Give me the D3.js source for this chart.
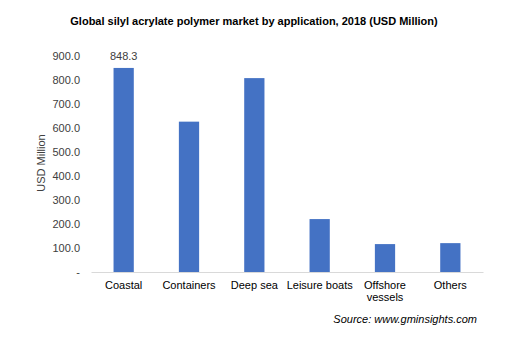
<!DOCTYPE html>
<html>
<head>
<meta charset="utf-8">
<script src="https://d3js.org/d3.v7.min.js"></script>
<style>
  body { margin: 0; background: #fff; }
  text { font-family: "Liberation Sans", Arial, sans-serif; }
</style>
</head>
<body>
<script>
  var categories = ["Coastal", "Containers", "Deep sea", "Leisure boats", "Offshore\nvessels", "Others"];
  var values = [848.3, 625, 806, 220, 116, 120];
  var tickValues = [0, 100, 200, 300, 400, 500, 600, 700, 800, 900];

  var width = 525, height = 341;
  var svg = d3.select("body").append("svg")
      .attr("width", width)
      .attr("height", height);

  var x = d3.scaleBand().domain(categories).range([91, 483]).paddingInner(0.69).paddingOuter(0.345);
  var y = d3.scaleLinear().domain([0, 900]).range([272, 55.5]);

  // title
  svg.append("text")
      .attr("x", 254).attr("y", 25)
      .attr("text-anchor", "middle")
      .attr("font-size", "11px").attr("font-weight", "bold")
      .attr("fill", "#000")
      .text("Global silyl acrylate polymer market by application, 2018 (USD Million)");

  // y axis labels
  var yAxis = d3.axisLeft(y).tickValues(tickValues).tickSize(0).tickPadding(0)
      .tickFormat(function(d){ return d === 0 ? "-" : d3.format(".1f")(d); });
  var gy = svg.append("g").attr("transform", "translate(80,0)").call(yAxis);
  gy.select(".domain").remove();
  gy.selectAll("text").attr("font-size", "11px").attr("fill", "#404040")
      .attr("font-family", "Liberation Sans, Arial, sans-serif");

  svg.append("text")
      .attr("transform", "translate(45,163) rotate(-90)")
      .attr("text-anchor", "middle")
      .attr("font-size", "11px").attr("fill", "#404040")
      .text("USD Million");

  // bars
  svg.selectAll("rect.bar").data(values).enter().append("rect")
      .attr("class", "bar")
      .attr("x", function(d, i){ return x(categories[i]); })
      .attr("width", x.bandwidth())
      .attr("y", function(d){ return y(d); })
      .attr("height", function(d){ return y(0) - y(d); })
      .attr("fill", "#4472c4");

  // x axis
  var xAxis = d3.axisBottom(x).tickSize(0).tickPadding(0).tickFormat("");
  var gx = svg.append("g").attr("transform", "translate(0," + y(0) + ")").call(xAxis);
  gx.select(".domain").attr("stroke", "#d9d9d9").attr("stroke-width", 1);

  svg.selectAll("text.cat").data(categories).enter().append("text")
      .attr("class", "cat")
      .attr("text-anchor", "middle")
      .attr("font-size", "11px").attr("fill", "#000")
      .attr("x", function(d){ return x(d) + x.bandwidth() / 2; })
      .attr("y", 289)
      .each(function(d){
        var t = d3.select(this);
        d.split("\n").forEach(function(line, j){
          t.append("tspan").attr("x", x(d) + x.bandwidth() / 2).attr("dy", j === 0 ? 0 : 12).text(line);
        });
      });

  // data label on first bar
  svg.append("text")
      .attr("x", x(categories[0]) + x.bandwidth() / 2)
      .attr("y", y(values[0]) - 8)
      .attr("text-anchor", "middle")
      .attr("font-size", "11px").attr("fill", "#404040")
      .text(d3.format(".1f")(values[0]));

  // source
  svg.append("text")
      .attr("x", 477).attr("y", 323)
      .attr("text-anchor", "end")
      .attr("font-size", "11px").attr("font-style", "italic").attr("fill", "#000")
      .text("Source: www.gminsights.com");
</script>
</body>
</html>
